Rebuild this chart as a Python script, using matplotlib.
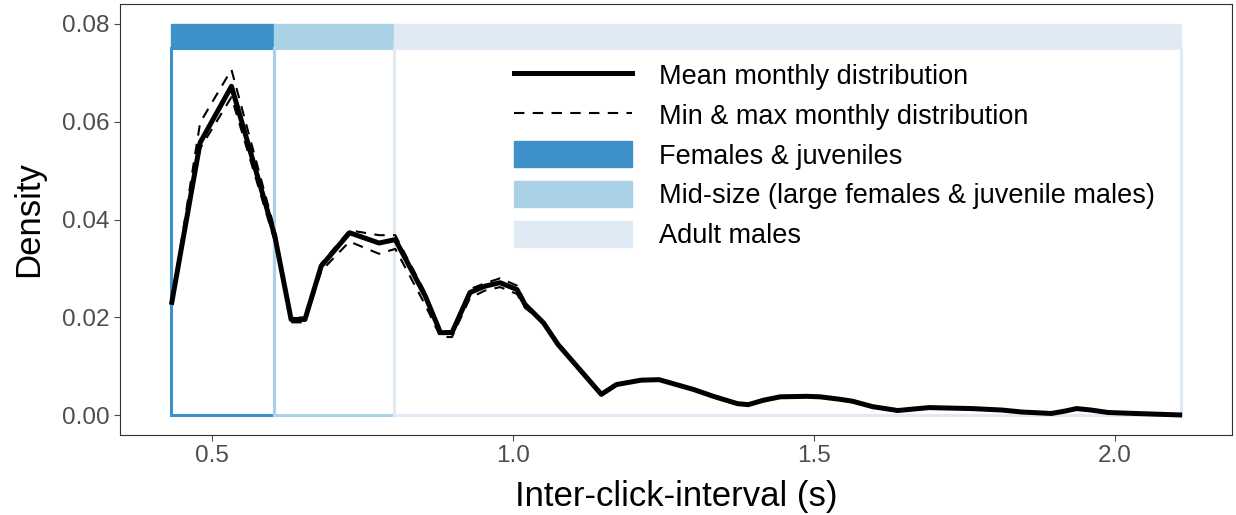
import matplotlib
matplotlib.use("Agg")
import matplotlib.pyplot as plt
from matplotlib.patches import Rectangle, Patch
from matplotlib.lines import Line2D

plt.rcParams['font.family'] = ['Liberation Sans', 'DejaVu Sans']

# inter-click interval grid (s) and monthly densities
ici = [0.434, 0.481, 0.533, 0.605, 0.632, 0.655, 0.682, 0.729, 0.778, 0.805,
       0.855, 0.880, 0.899, 0.929, 0.954, 0.979, 1.007, 1.020, 1.051, 1.075,
       1.147, 1.172, 1.213, 1.243, 1.300, 1.333, 1.373, 1.391, 1.416, 1.444,
       1.488, 1.510, 1.543, 1.564, 1.597, 1.639, 1.691, 1.762, 1.812, 1.845,
       1.894, 1.917, 1.936, 1.960, 1.988, 2.033, 2.107]
dens_mean = [0.0231, 0.0557, 0.0672, 0.0366, 0.0196, 0.0196, 0.0305, 0.0373, 0.0352, 0.0359,
             0.0243, 0.0169, 0.0169, 0.0251, 0.0264, 0.0271, 0.0257, 0.0227, 0.0189, 0.0145,
             0.0043, 0.0063, 0.0072, 0.0073, 0.0053, 0.0039, 0.0024, 0.0022, 0.0031, 0.0038,
             0.0039, 0.0038, 0.0033, 0.0029, 0.0018, 0.0010, 0.0016, 0.0014, 0.0011, 0.0007,
             0.0004, 0.0009, 0.0014, 0.0011, 0.0006, 0.0004, 0.0001]
dens_min = [0.0231, 0.0545, 0.0650, 0.0355, 0.0190, 0.0190, 0.0295, 0.0355, 0.0330, 0.0340,
            0.0225, 0.0160, 0.0160, 0.0240, 0.0255, 0.0262, 0.0248, 0.0220, 0.0189, 0.0145,
            0.0043, 0.0063, 0.0072, 0.0073, 0.0053, 0.0039, 0.0024, 0.0022, 0.0031, 0.0038,
            0.0039, 0.0038, 0.0033, 0.0029, 0.0018, 0.0010, 0.0016, 0.0014, 0.0011, 0.0007,
            0.0004, 0.0009, 0.0014, 0.0011, 0.0006, 0.0004, 0.0001]
dens_max = [0.0231, 0.0598, 0.0706, 0.0378, 0.0200, 0.0200, 0.0310, 0.0378, 0.0368, 0.0368,
            0.0250, 0.0172, 0.0172, 0.0258, 0.0270, 0.0280, 0.0265, 0.0232, 0.0189, 0.0145,
            0.0043, 0.0063, 0.0072, 0.0073, 0.0053, 0.0039, 0.0024, 0.0022, 0.0031, 0.0038,
            0.0039, 0.0038, 0.0033, 0.0029, 0.0018, 0.0010, 0.0016, 0.0014, 0.0011, 0.0007,
            0.0004, 0.0009, 0.0014, 0.0011, 0.0006, 0.0004, 0.0001]

# size-class ICI ranges
class_names = ["Females & juveniles", "Mid-size (large females & juvenile males)", "Adult males"]
class_lo = [0.432, 0.604, 0.802]
class_hi = [0.604, 0.802, 2.110]
class_cols = ["#3D91C8", "#AAD2E6", "#E0EAF4"]
band_lo, band_hi = 0.075, 0.080

DASH = (0, (5, 4))

fig = plt.figure(figsize=(12.36, 5.15), dpi=100)
ax = fig.add_axes([0.0971, 0.1553, 0.8997, 0.8369])

for lo, hi, c in zip(class_lo, class_hi, class_cols):
    ax.add_patch(Rectangle((lo, 0), hi - lo, band_lo, fill=False, edgecolor=c, lw=2.2, zorder=1))
    ax.add_patch(Rectangle((lo, band_lo), hi - lo, band_hi - band_lo, facecolor=c, edgecolor=c, lw=1, zorder=1))

ax.plot(ici, dens_min, color="black", lw=1.5, ls=DASH, zorder=3)
ax.plot(ici, dens_max, color="black", lw=1.5, ls=DASH, zorder=3)
ax.plot(ici, dens_mean, color="black", lw=3.6, zorder=4, solid_joinstyle="round")

ax.set_xlim(0.348, 2.194)
ax.set_ylim(-0.004, 0.084)
ax.set_xticks([0.5, 1.0, 1.5, 2.0])
ax.set_xticklabels(["0.5", "1.0", "1.5", "2.0"])
ax.set_yticks([0.0, 0.02, 0.04, 0.06, 0.08])
ax.set_yticklabels(["0.00", "0.02", "0.04", "0.06", "0.08"])
ax.tick_params(colors="#4D4D4D", labelsize=17.5, length=4, width=0.8)
for s in ax.spines.values():
    s.set_color("#333333")
    s.set_linewidth(0.8)
ax.set_xlabel("Inter-click-interval (s)", fontsize=25, labelpad=9)
ax.set_ylabel("Density", fontsize=25, labelpad=12)

handles = [Line2D([], [], color="black", lw=3.6),
           Line2D([], [], color="black", lw=1.5, ls=DASH)]
handles += [Patch(facecolor=c, edgecolor=c) for c in class_cols]
labels = ["Mean monthly distribution", "Min & max monthly distribution"] + class_names
ax.legend(handles, labels, loc="upper left", bbox_to_anchor=(0.345, 0.89), frameon=False,
          fontsize=19.5, handlelength=4.35, handleheight=1.1, handletextpad=1.0,
          labelspacing=0.42, borderaxespad=0)

fig.savefig("out.png", dpi=100)
